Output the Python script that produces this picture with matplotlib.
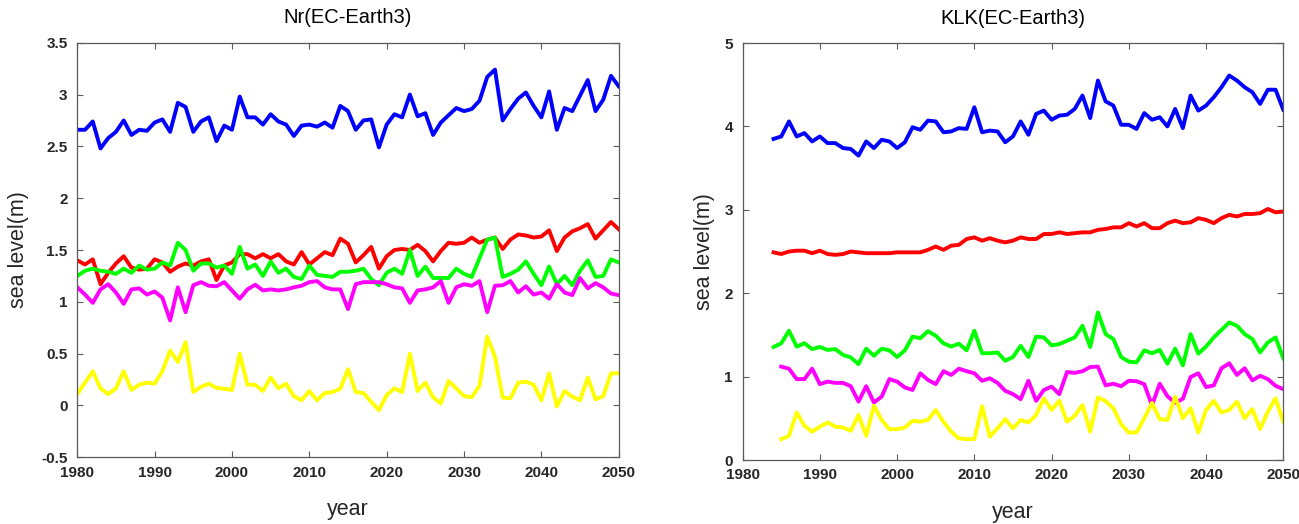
import numpy as np
import matplotlib
matplotlib.use("Agg")
import matplotlib.pyplot as plt

plt.rcParams['font.family'] = ['Liberation Sans', 'DejaVu Sans']

# ---- Nr(EC-Earth3): 1980-2050 ----
nr_years = np.arange(1980, 2051)
nr_blue = [2.66, 2.66, 2.74, 2.48, 2.58, 2.64, 2.75, 2.61, 2.66, 2.65,
           2.73, 2.76, 2.64, 2.92, 2.88, 2.64, 2.74, 2.78, 2.55, 2.70,
           2.66, 2.98, 2.78, 2.78, 2.71, 2.81, 2.74, 2.71, 2.60, 2.70,
           2.71, 2.69, 2.73, 2.68, 2.89, 2.84, 2.66, 2.75, 2.76, 2.49,
           2.71, 2.81, 2.78, 3.00, 2.79, 2.82, 2.61, 2.73, 2.80, 2.87,
           2.84, 2.86, 2.94, 3.17, 3.24, 2.75, 2.86, 2.96, 3.02, 2.89,
           2.78, 3.03, 2.66, 2.87, 2.84, 2.99, 3.14, 2.84, 2.95, 3.18,
           3.08]
nr_red = [1.40, 1.36, 1.41, 1.17, 1.28, 1.37, 1.44, 1.33, 1.31, 1.32,
          1.41, 1.38, 1.29, 1.34, 1.37, 1.35, 1.39, 1.41, 1.21, 1.35,
          1.38, 1.46, 1.46, 1.42, 1.46, 1.42, 1.46, 1.39, 1.36, 1.48,
          1.36, 1.42, 1.48, 1.45, 1.61, 1.56, 1.38, 1.45, 1.53, 1.32,
          1.44, 1.50, 1.51, 1.50, 1.55, 1.49, 1.39, 1.49, 1.57, 1.56,
          1.57, 1.62, 1.57, 1.60, 1.62, 1.51, 1.60, 1.65, 1.64, 1.62,
          1.63, 1.69, 1.49, 1.62, 1.68, 1.71, 1.75, 1.61, 1.69, 1.77,
          1.70]
nr_green = [1.25, 1.30, 1.32, 1.30, 1.29, 1.27, 1.32, 1.28, 1.35, 1.31,
            1.32, 1.38, 1.35, 1.57, 1.50, 1.30, 1.37, 1.37, 1.33, 1.35,
            1.27, 1.53, 1.32, 1.36, 1.25, 1.39, 1.28, 1.32, 1.24, 1.22,
            1.35, 1.26, 1.25, 1.24, 1.29, 1.29, 1.30, 1.32, 1.22, 1.16,
            1.28, 1.32, 1.27, 1.50, 1.25, 1.34, 1.23, 1.23, 1.23, 1.32,
            1.27, 1.24, 1.42, 1.60, 1.62, 1.24, 1.27, 1.31, 1.39, 1.27,
            1.16, 1.34, 1.17, 1.25, 1.16, 1.30, 1.40, 1.24, 1.25, 1.41,
            1.38]
nr_magenta = [1.14, 1.07, 0.99, 1.12, 1.17, 1.09, 0.98, 1.12, 1.13, 1.07,
              1.10, 1.04, 0.82, 1.14, 0.90, 1.16, 1.19, 1.155, 1.15, 1.19,
              1.11, 1.03, 1.12, 1.165, 1.11, 1.12, 1.11, 1.12, 1.14, 1.155,
              1.19, 1.20, 1.14, 1.12, 1.12, 0.93, 1.17, 1.19, 1.19, 1.19,
              1.17, 1.14, 1.13, 0.99, 1.11, 1.12, 1.14, 1.20, 0.99, 1.14,
              1.17, 1.155, 1.20, 0.90, 1.155, 1.16, 1.20, 1.09, 1.15, 1.07,
              1.09, 1.03, 1.17, 1.09, 1.065, 1.23, 1.13, 1.18, 1.14, 1.08,
              1.065]
nr_yellow = [0.11, 0.22, 0.33, 0.165, 0.11, 0.165, 0.33, 0.15, 0.20, 0.22,
             0.21, 0.33, 0.53, 0.42, 0.61, 0.13, 0.18, 0.21, 0.17, 0.16,
             0.15, 0.50, 0.20, 0.20, 0.14, 0.27, 0.165, 0.21, 0.09, 0.05,
             0.14, 0.05, 0.12, 0.13, 0.16, 0.35, 0.13, 0.12, 0.035, -0.045,
             0.10, 0.165, 0.13, 0.50, 0.14, 0.22, 0.08, 0.02, 0.235, 0.165,
             0.09, 0.08, 0.19, 0.665, 0.47, 0.075, 0.07, 0.22, 0.23, 0.20,
             0.05, 0.31, -0.01, 0.14, 0.085, 0.05, 0.27, 0.06, 0.09, 0.31,
             0.31]

# ---- KLK(EC-Earth3): blue/red/green from 1984, magenta/yellow from 1985 ----
klk_years_a = np.arange(1984, 2051)
klk_years_b = np.arange(1985, 2051)
klk_blue = [3.85, 3.88, 4.06, 3.88, 3.92, 3.82, 3.88, 3.80, 3.80, 3.74,
            3.73, 3.65, 3.82, 3.74, 3.84, 3.82, 3.74, 3.81, 3.99, 3.96,
            4.07, 4.06, 3.93, 3.94, 3.98, 3.97, 4.23, 3.93, 3.95, 3.94,
            3.81, 3.88, 4.06, 3.90, 4.15, 4.19, 4.08, 4.13, 4.14, 4.21,
            4.37, 4.10, 4.55, 4.30, 4.25, 4.02, 4.02, 3.97, 4.16, 4.08,
            4.11, 4.00, 4.21, 3.98, 4.37, 4.19, 4.25, 4.35, 4.47, 4.61,
            4.55, 4.47, 4.41, 4.27, 4.44, 4.44, 4.20]
klk_red = [2.49, 2.47, 2.50, 2.51, 2.51, 2.48, 2.51, 2.47, 2.46, 2.47,
           2.50, 2.49, 2.48, 2.48, 2.48, 2.48, 2.49, 2.49, 2.49, 2.49,
           2.52, 2.56, 2.52, 2.57, 2.58, 2.65, 2.67, 2.63, 2.66, 2.63,
           2.61, 2.63, 2.67, 2.65, 2.65, 2.71, 2.71, 2.73, 2.71, 2.72,
           2.73, 2.73, 2.76, 2.77, 2.79, 2.79, 2.84, 2.80, 2.84, 2.78,
           2.78, 2.84, 2.87, 2.84, 2.85, 2.90, 2.88, 2.84, 2.90, 2.94,
           2.92, 2.95, 2.95, 2.96, 3.01, 2.97, 2.98]
klk_green = [1.355, 1.40, 1.55, 1.36, 1.40, 1.33, 1.355, 1.32, 1.33, 1.26,
             1.23, 1.15, 1.335, 1.25, 1.335, 1.315, 1.235, 1.315, 1.48, 1.46,
             1.545, 1.49, 1.40, 1.36, 1.395, 1.315, 1.55, 1.28, 1.28, 1.29,
             1.19, 1.235, 1.37, 1.235, 1.48, 1.47, 1.375, 1.39, 1.43, 1.47,
             1.61, 1.355, 1.77, 1.51, 1.45, 1.235, 1.18, 1.17, 1.315, 1.28,
             1.32, 1.155, 1.335, 1.135, 1.51, 1.275, 1.36, 1.47, 1.56, 1.65,
             1.61, 1.51, 1.45, 1.29, 1.41, 1.47, 1.22]
klk_magenta = [1.12, 1.095, 0.97, 0.97, 1.095, 0.91, 0.94, 0.925, 0.925, 0.885,
               0.70, 0.885, 0.69, 0.76, 0.97, 0.94, 0.87, 0.84, 1.04, 0.96,
               0.91, 1.065, 1.02, 1.095, 1.065, 1.04, 0.95, 0.98, 0.925, 0.83,
               0.79, 0.73, 0.95, 0.71, 0.84, 0.88, 0.79, 1.055, 1.045, 1.065,
               1.115, 1.12, 0.895, 0.915, 0.885, 0.95, 0.945, 0.91, 0.655, 0.915,
               0.765, 0.685, 0.735, 0.995, 1.04, 0.875, 0.895, 1.10, 1.16, 1.02,
               1.10, 0.955, 1.01, 0.97, 0.89, 0.85]
klk_yellow = [0.25, 0.29, 0.57, 0.41, 0.34, 0.40, 0.45, 0.40, 0.39, 0.35,
              0.54, 0.29, 0.65, 0.48, 0.37, 0.37, 0.39, 0.47, 0.46, 0.48,
              0.60, 0.46, 0.34, 0.26, 0.25, 0.25, 0.645, 0.28, 0.38, 0.49,
              0.38, 0.48, 0.45, 0.54, 0.74, 0.60, 0.71, 0.46, 0.53, 0.66,
              0.34, 0.75, 0.705, 0.62, 0.43, 0.33, 0.33, 0.50, 0.685, 0.49,
              0.48, 0.76, 0.50, 0.62, 0.33, 0.60, 0.71, 0.57, 0.60, 0.70,
              0.50, 0.61, 0.37, 0.58, 0.74, 0.46]

xticks = [1980, 1990, 2000, 2010, 2020, 2030, 2040, 2050]
nr_yticks = [-0.5, 0, 0.5, 1, 1.5, 2, 2.5, 3, 3.5]
nr_yticklabels = ['-0.5', '0', '0.5', '1', '1.5', '2', '2.5', '3', '3.5']
klk_yticks = [0, 1, 2, 3, 4, 5]

lw = 2.8
spine_col = '#5a5a5a'


def style_axes(ax, title, yticks, yticklabels, ylim, ylabelpad):
    ax.set_xlim(1980, 2050)
    ax.set_ylim(*ylim)
    ax.set_xticks(xticks)
    ax.set_xticklabels([str(t) for t in xticks])
    ax.set_yticks(yticks)
    ax.set_yticklabels(yticklabels)
    for lab in ax.get_xticklabels() + ax.get_yticklabels():
        lab.set_fontweight('bold')
        lab.set_fontsize(11)
        lab.set_color('#262626')
    ax.tick_params(direction='in', length=4.5, width=0.8, color=spine_col,
                   top=True, right=True)
    ax.tick_params(axis='x', pad=6)
    ax.tick_params(axis='y', pad=7)
    for s in ax.spines.values():
        s.set_color(spine_col)
        s.set_linewidth(0.9)
    ax.set_title(title, fontsize=14.5, pad=14)
    ax.set_xlabel('year', fontsize=15.5, color='#262626', labelpad=14)
    ax.set_ylabel('sea level(m)', fontsize=15.5, color='#262626', labelpad=ylabelpad)


fig = plt.figure(figsize=(12.99, 5.24), dpi=100)
ax1 = fig.add_axes([0.0595, 0.1273, 0.4168, 0.7912])
ax2 = fig.add_axes([0.5717, 0.1221, 0.4162, 0.7958])

ax1.plot(nr_years, nr_blue, color='#0000ff', lw=lw)
ax1.plot(nr_years, nr_red, color='#ff0000', lw=lw)
ax1.plot(nr_years, nr_green, color='#00ff00', lw=lw)
ax1.plot(nr_years, nr_magenta, color='#ff00ff', lw=lw)
ax1.plot(nr_years, nr_yellow, color='#ffff00', lw=lw)
style_axes(ax1, 'Nr(EC-Earth3)', nr_yticks, nr_yticklabels, (-0.5, 3.5), 9)

ax2.plot(klk_years_a, klk_blue, color='#0000ff', lw=lw)
ax2.plot(klk_years_a, klk_red, color='#ff0000', lw=lw)
ax2.plot(klk_years_a, klk_green, color='#00ff00', lw=lw)
ax2.plot(klk_years_b, klk_magenta, color='#ff00ff', lw=lw)
ax2.plot(klk_years_b, klk_yellow, color='#ffff00', lw=lw)
style_axes(ax2, 'KLK(EC-Earth3)', klk_yticks, [str(t) for t in klk_yticks], (0, 5), 7)

fig.savefig('out.png', dpi=100)
